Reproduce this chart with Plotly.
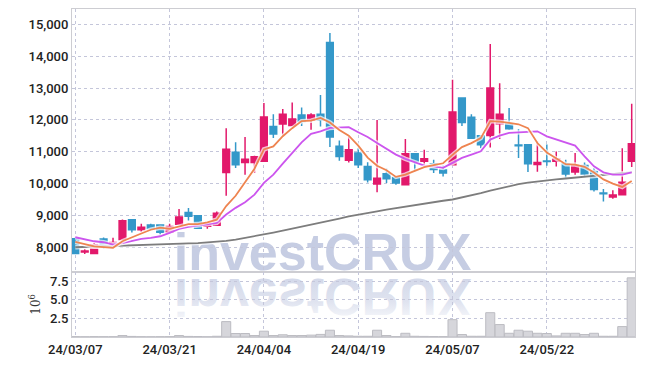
import plotly.graph_objects as go

dates = ["24/03/07","24/03/08","24/03/11","24/03/12","24/03/13","24/03/14","24/03/15","24/03/18","24/03/19","24/03/20",
         "24/03/21","24/03/22","24/03/25","24/03/26","24/03/27","24/03/28","24/03/29","24/04/01","24/04/02","24/04/03",
         "24/04/04","24/04/05","24/04/08","24/04/09","24/04/11","24/04/12","24/04/15","24/04/16","24/04/17","24/04/18",
         "24/04/19","24/04/22","24/04/23","24/04/24","24/04/25","24/04/26","24/04/29","24/04/30","24/05/02","24/05/03",
         "24/05/07","24/05/08","24/05/09","24/05/10","24/05/13","24/05/14","24/05/16","24/05/17","24/05/20","24/05/21",
         "24/05/22","24/05/23","24/05/24","24/05/27","24/05/28","24/05/29","24/05/30","24/05/31","24/06/03","24/06/04"]

opens = [8270,7850,7800,8260,8040,8240,8860,8550,8700,8700,
         8470,8720,9090,8990,8660,8690,10350,10980,10660,10660,
         10700,11790,11870,11820,12150,11990,12180,14430,11170,10730,
         10960,10540,9990,10310,10190,9960,10940,10700,10620,10430,
         10590,12690,12080,11500,11510,11880,11870,11210,11220,10600,
         10710,10700,10620,10360,10570,10380,9700,9580,9650,10700]
highs = [8300,7940,8130,8310,8300,8870,8880,8740,8740,8710,
         8740,9200,9230,9000,8790,9120,11740,11300,11460,10870,
         12530,12180,12340,12550,12390,12210,12780,14730,11350,11480,
         11110,10670,12000,10470,10200,11400,10950,11060,10750,10570,
         13260,12700,12180,11520,14380,13150,12370,11710,11230,11320,
         11230,11010,10750,10960,10660,10490,9830,9790,11110,12510]
lows = [7790,7790,7790,7950,8030,8230,8460,8480,8550,8390,
        8440,8700,8840,8580,8580,8680,9620,10490,10280,10330,
        10690,11430,11530,11810,11810,11690,11790,11150,10720,10660,
        10490,10030,9730,10020,9960,9950,10430,10540,10330,10220,
        10580,11810,11410,11110,11130,11400,11690,10800,10360,10370,
        10560,10540,10140,10280,10210,9750,9440,9520,9640,10520]
closes = [7800,7880,8080,8000,8150,8830,8550,8630,8590,8470,
          8650,8950,8970,8600,8740,9070,11080,10590,10760,10840,
          12090,11560,12180,12030,11950,12150,12000,11460,10850,11060,
          10590,10120,10170,10150,10020,10940,10700,10780,10440,10330,
          12250,11920,11420,11220,13000,12180,11720,11190,10620,10660,
          10690,10770,10300,10570,10300,9810,9680,9640,10040,11250]

volumes_m = [0.05,0.03,0.05,0.04,0.04,0.20,0.08,0.04,0.03,0.04,
             0.05,0.20,0.08,0.06,0.03,0.10,2.07,0.47,0.47,0.20,
             0.78,0.20,0.30,0.20,0.20,0.25,0.35,0.91,0.20,0.15,
             0.10,0.10,0.91,0.20,0.05,0.50,0.10,0.08,0.06,0.05,
             2.33,0.33,0.10,0.10,3.27,1.67,0.50,0.91,0.78,0.50,
             0.47,0.15,0.50,0.50,0.33,0.50,0.10,0.10,1.40,7.95]

ma5 = [8165,8090,8025,8006,7982,8188,8322,8432,8550,8614,
       8578,8658,8726,8728,8782,8866,9292,9616,10048,10468,
       11072,11168,11486,11740,11962,11974,12062,11918,11682,11504,
       11192,10816,10558,10418,10210,10280,10396,10518,10576,10638,
       10900,11144,11272,11428,11962,11948,11908,11862,11742,11274,
       10976,10786,10608,10598,10526,10350,10132,10000,9894,10084]
ma20 = [8314,8240,8188,8157,8085,8132,8210,8264,8295,8345,
        8452,8578,8640,8681,8713,8766,9026,9237,9413,9654,
        10021,10282,10627,10963,11296,11560,11641,11748,11767,11770,
        11610,11465,11277,11089,10910,10775,10668,10565,10543,10492,
        10649,10806,10910,11013,11381,11506,11591,11610,11620,11641,
        11484,11381,11277,11192,10856,10543,10354,10282,10282,10354]
ma120 = [8000,8008,8016,8024,8032,8040,8048,8056,8064,8080,
         8100,8110,8120,8130,8150,8170,8200,8240,8290,8340,
         8400,8460,8520,8580,8640,8700,8760,8820,8900,8970,
         9030,9080,9130,9180,9230,9270,9320,9380,9430,9460,
         9500,9560,9630,9700,9780,9850,9920,9980,10030,10070,
         10100,10130,10160,10190,10220,10250,10290,10310,10330,10350]

tick_dates = dates[::10]
vol_ticks = [2.5, 5.0, 7.5]
watermark = "investCRUX"

UP = "#E2196B"
DOWN = "#3498C9"
GRID = "rgb(196,198,218)"
BORDER = "rgb(205,205,210)"
WM = "rgb(198,205,227)"
FONT = "Roboto, 'DejaVu Sans', sans-serif"

volumes = [v * 1e6 for v in volumes_m]

fig = go.Figure()

fig.add_trace(go.Bar(
    x=dates, y=volumes, xaxis="x2", yaxis="y2",
    marker=dict(color="rgb(214,214,219)", line=dict(color="rgb(188,188,194)", width=1)),
    hoverinfo="skip",
))

for vals, col in [(ma120, "rgb(125,125,125)"), (ma20, "#CC55EE"), (ma5, "#EE8450")]:
    fig.add_trace(go.Scatter(x=dates, y=vals, mode="lines", xaxis="x", yaxis="y",
                             line=dict(color="rgba(255,255,255,0.7)", width=4.5), hoverinfo="skip"))
    fig.add_trace(go.Scatter(x=dates, y=vals, mode="lines", xaxis="x", yaxis="y",
                             line=dict(color=col, width=1.8), hoverinfo="skip"))

fig.add_trace(go.Candlestick(
    x=dates, open=opens, high=highs, low=lows, close=closes,
    xaxis="x", yaxis="y",
    increasing=dict(line=dict(color=UP, width=1.5), fillcolor=UP),
    decreasing=dict(line=dict(color=DOWN, width=1.5), fillcolor=DOWN),
    whiskerwidth=0,
))

SPLIT = 0.1987
xcommon = dict(
    type="category", categoryorder="array", categoryarray=dates,
    range=[-0.35, len(dates) - 0.65],
    tickmode="array", tickvals=tick_dates,
    showgrid=True, gridcolor=GRID, griddash="dot", gridwidth=1,
    showline=True, mirror=True, linecolor=BORDER, linewidth=1,
    ticks="", zeroline=False, rangeslider=dict(visible=False),
)

fig.update_layout(
    width=645, height=366,
    margin=dict(l=72, r=10, t=9, b=29),
    paper_bgcolor="white", plot_bgcolor="white",
    showlegend=False,
    boxgap=0.29, boxgroupgap=0, bargap=0.04,
    font=dict(family=FONT, size=13, color="#222"),
    xaxis=dict(xcommon, anchor="y", domain=[0, 1], showticklabels=False, matches="x2"),
    xaxis2=dict(xcommon, anchor="y2", domain=[0, 1], ticktext=tick_dates,
                tickfont=dict(family=FONT, size=13, color="#222", weight=500)),
    yaxis=dict(domain=[SPLIT, 1], range=[7228, 15483], dtick=1000, tick0=0,
               tickformat=",", showgrid=True, gridcolor=GRID, griddash="dot",
               showline=True, mirror=True, linecolor=BORDER, linewidth=1,
               ticks="", zeroline=False,
               tickfont=dict(family=FONT, size=13, color="#222", weight=500)),
    yaxis2=dict(domain=[0, SPLIT], range=[0, 8.76e6], anchor="x2",
                tickmode="array", tickvals=[v * 1e6 for v in vol_ticks],
                ticktext=["%.1f" % v for v in vol_ticks],
                showgrid=True, gridcolor=GRID, griddash="dot",
                showline=True, mirror=True, linecolor=BORDER, linewidth=1,
                ticks="", zeroline=False,
                tickfont=dict(family=FONT, size=13, color="#222", weight=500),
                title=dict(text="10<sup>6</sup>", standoff=6,
                           font=dict(family="'DejaVu Serif', serif", size=12, color="#333"))),
    shapes=[dict(
        type="rect", xref="paper", yref="paper",
        x0=0.15, x1=0.74, y0=0.205, y1=0.345,
        line=dict(width=0), fillcolor="rgba(0,0,0,0)", layer="below",
        label=dict(text="<b>" + watermark + "</b>", textposition="middle center",
                   font=dict(family="'Liberation Sans', Arial, sans-serif", size=52, color=WM)),
    )],
)

# faint mirrored reflection of the watermark text (a real SVG text clone, flipped vertically)
reflect_js = """
(function(){
  var gd = document.querySelector('.plotly-graph-div');
  if (!gd) return;
  var src = null;
  gd.querySelectorAll('text').forEach(function(t){ if (!src && t.textContent === '%s') src = t; });
  if (!src) return;
  var ya = gd._fullLayout.yaxis;
  var Y = ya._offset + ya._length + 2.5;
  var ns = 'http://www.w3.org/2000/svg';
  var svg = src.ownerSVGElement;
  var defs = svg.querySelector('defs');
  if (!defs) { defs = document.createElementNS(ns, 'defs'); svg.insertBefore(defs, svg.firstChild); }
  var lg = document.createElementNS(ns, 'linearGradient');
  lg.setAttribute('id', 'wmfade');
  lg.setAttribute('gradientUnits', 'userSpaceOnUse');
  lg.setAttribute('x1', '0'); lg.setAttribute('x2', '0');
  lg.setAttribute('y1', String(Y)); lg.setAttribute('y2', String(Y - 46));
  [['0', '0.8'], ['0.6', '0.55'], ['1', '0.15']].forEach(function(s){
    var st = document.createElementNS(ns, 'stop');
    st.setAttribute('offset', s[0]);
    st.setAttribute('stop-color', '%s');
    st.setAttribute('stop-opacity', s[1]);
    lg.appendChild(st);
  });
  defs.appendChild(lg);
  var g = document.createElementNS(ns, 'g');
  g.setAttribute('transform', 'translate(0,' + (2 * Y) + ') scale(1,-1)');
  var c = src.cloneNode(true);
  c.style.fill = 'url(#wmfade)';
  g.appendChild(c);
  src.parentNode.insertBefore(g, src);
})();
""" % (watermark, WM)

fig.write_html("out.html", config={"displayModeBar": False},
               post_script="document.body.style.margin='0';document.body.style.padding='0';" + reflect_js)
